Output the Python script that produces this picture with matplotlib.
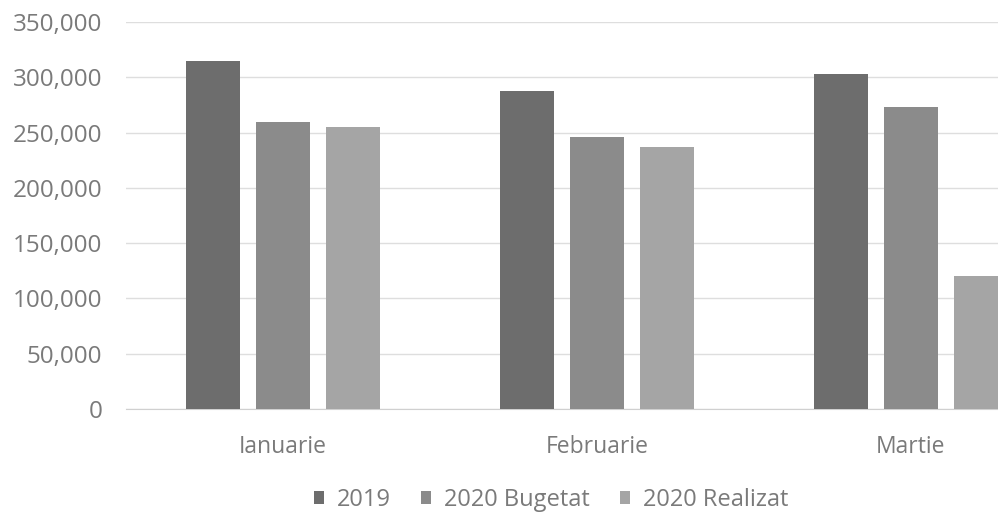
import matplotlib.pyplot as plt
import numpy as np
from matplotlib.ticker import FuncFormatter

# date
luni = ['Ianuarie', 'Februarie', 'Martie']
serii = ['2019', '2020 Bugetat', '2020 Realizat']
v2019 = [315000, 288000, 303000]
v2020_bugetat = [260000, 246000, 273000]
v2020_realizat = [255000, 237000, 120000]
culori = ['#6d6d6d', '#8b8b8b', '#a5a5a5']

plt.rcParams['font.family'] = ['Open Sans', 'DejaVu Sans']

fig = plt.figure(figsize=(9.98, 5.16), dpi=100)
# graficul este taiat in dreapta, asa ca axele trec de marginea figurii
ax = fig.add_axes([126 / 998, 107 / 516, 942 / 998, 387 / 516])

x = np.arange(len(luni))
latime = 0.172
pas = 0.223
for i, (vals, nume) in enumerate(zip([v2019, v2020_bugetat, v2020_realizat], serii)):
    ax.bar(x + (i - 1) * pas, vals, latime, color=culori[i], label=nume, zorder=3)

ax.set_xlim(-0.5, 2.5)
ax.set_ylim(0, 350000)
ax.set_yticks(range(0, 350001, 50000))
ax.yaxis.set_major_formatter(FuncFormatter(lambda v, p: f'{int(v):,}'))
ax.set_xticks(x)
ax.set_xticklabels(luni)
ax.grid(axis='y', color='#dedede', linewidth=1, zorder=0)
for s in ['top', 'right', 'left']:
    ax.spines[s].set_visible(False)
ax.spines['bottom'].set_color('#d0d0d0')
ax.tick_params(axis='y', length=0, pad=17, labelsize=17.5, labelcolor='#7a7a7a')
ax.tick_params(axis='x', length=0, pad=19, labelsize=16.5, labelcolor='#7a7a7a')

handles, labels = ax.get_legend_handles_labels()
fig.legend(handles, labels, loc='center', bbox_to_anchor=(551 / 998, 1 - 500 / 516),
           ncol=3, frameon=False, fontsize=17, labelcolor='#7a7a7a',
           handlelength=0.42, handleheight=0.42, handletextpad=0.55, columnspacing=1.27,
           borderpad=0)

fig.savefig('out.png', dpi=100)
